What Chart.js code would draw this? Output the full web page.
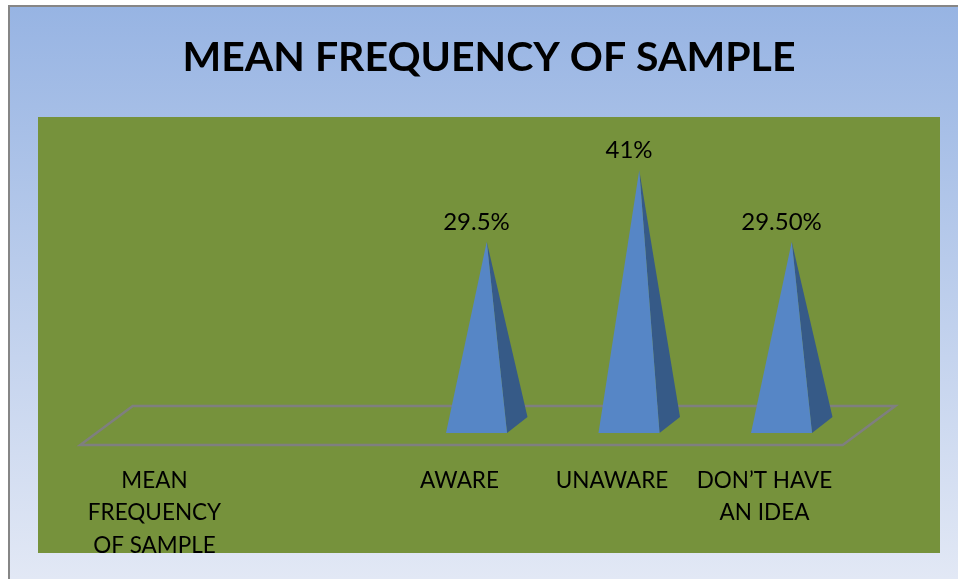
<!DOCTYPE html>
<html>
<head>
<meta charset="utf-8">
<title>Mean frequency of sample</title>
<style>
html, body { margin: 0; padding: 0; background: #fff; }
#wrap { position: absolute; left: 0; top: 0; width: 958px; height: 579px; }
</style>
<script src="https://cdn.jsdelivr.net/npm/chart.js@4"></script>
</head>
<body>
<div id="wrap"><canvas id="myChart" width="958" height="579"></canvas></div>
<script>
const titleText = 'MEAN FREQUENCY OF SAMPLE';
const categories = [['MEAN', 'FREQUENCY', 'OF SAMPLE'], '', 'AWARE', 'UNAWARE', ['DON’T HAVE', 'AN IDEA']];
const values = [null, null, 29.5, 41, 29.5];
const valueLabels = ['', '', '29.5%', '41%', '29.50%'];

// pyramid depth on screen, px
const depthX = 20.5;
const depthY = 16;

class PyramidElement extends Chart.BarElement {
    draw(ctx) {
        const { x, y, base, width } = this.getProps(['x', 'y', 'base', 'width']);
        if (y === base || isNaN(y)) return;
        const left = x - width / 2;
        const right = x + width / 2;
        const apexX = x + depthX / 2;
        const front = base + depthY / 2;

        ctx.save();
        ctx.fillStyle = '#365a87';
        ctx.beginPath();
        ctx.moveTo(apexX, y);
        ctx.lineTo(right, front);
        ctx.lineTo(right + depthX, front - depthY);
        ctx.closePath();
        ctx.fill();

        ctx.fillStyle = this.options.backgroundColor;
        ctx.beginPath();
        ctx.moveTo(apexX, y);
        ctx.lineTo(left, front);
        ctx.lineTo(right, front);
        ctx.closePath();
        ctx.fill();
        ctx.restore();
    }
}
PyramidElement.id = 'pyramid';
PyramidElement.defaults = { ...Chart.BarElement.defaults };

class PyramidController extends Chart.BarController {}
PyramidController.id = 'pyramid';
PyramidController.defaults = { ...Chart.BarController.defaults, dataElementType: 'pyramid' };
PyramidController.overrides = Chart.BarController.overrides;

Chart.register(PyramidElement, PyramidController);

function panelFill(ctx) {
    const g = ctx.createLinearGradient(0, 7, 0, 579);
    g.addColorStop(0, '#97b4e3');
    g.addColorStop(1, '#e2e8f5');
    return g;
}

const backdrop = {
    id: 'backdrop',
    beforeDraw(chart) {
        const { ctx, scales } = chart;
        ctx.save();
        ctx.fillStyle = '#868686';
        ctx.fillRect(8, 5, 950, 574);
        ctx.fillStyle = panelFill(ctx);
        ctx.fillRect(10, 7, 948, 572);
        ctx.fillStyle = '#76923c';
        ctx.fillRect(38, 117, 902, 436);

        // floor of the 3d plot
        const y0 = scales.y.getPixelForValue(0);
        const l = scales.x.left;
        const r = scales.x.right;
        ctx.strokeStyle = '#7f7f7f';
        ctx.lineWidth = 2.5;
        ctx.beginPath();
        ctx.moveTo(l - 15, y0 + 20);
        ctx.lineTo(r - 15, y0 + 20);
        ctx.lineTo(r + 37.5, y0 - 19);
        ctx.lineTo(l + 37.5, y0 - 19);
        ctx.closePath();
        ctx.stroke();

        ctx.fillStyle = '#000';
        ctx.font = 'bold 41px Lato';
        ctx.textAlign = 'center';
        ctx.textBaseline = 'alphabetic';
        ctx.fillText(titleText, 489, 71);
        ctx.restore();
    },
    afterDraw(chart) {
        const { ctx } = chart;
        ctx.save();
        // value labels above the tips
        ctx.fillStyle = '#000';
        ctx.font = '24px Lato';
        ctx.textAlign = 'center';
        ctx.textBaseline = 'alphabetic';
        chart.getDatasetMeta(0).data.forEach((bar, i) => {
            if (values[i] === null) return;
            ctx.fillText(valueLabels[i], bar.x, bar.y - 12);
        });
        // the last tick line is cut by the plot edge in the original
        ctx.fillStyle = panelFill(ctx);
        ctx.fillRect(10, 553, 948, 26);
        ctx.restore();
    }
};

new Chart(document.getElementById('myChart').getContext('2d'), {
    type: 'pyramid',
    data: {
        labels: categories,
        datasets: [{
            label: titleText,
            data: values,
            backgroundColor: '#5686c6',
            categoryPercentage: 0.4,
            barPercentage: 1,
            clip: false
        }]
    },
    options: {
        responsive: false,
        animation: false,
        layout: { padding: { left: 95.25, right: 100.25, top: 145.5, bottom: 0 } },
        plugins: {
            legend: { display: false },
            title: { display: false },
            tooltip: { enabled: false }
        },
        scales: {
            x: {
                grid: { display: false },
                border: { display: false },
                afterFit: scale => { scale.height = 154; },
                ticks: {
                    color: '#000',
                    maxRotation: 0,
                    autoSkip: false,
                    labelOffset: -17,
                    padding: 31,
                    font: { family: 'Lato', size: 22.5, lineHeight: '32.5px' }
                }
            },
            y: {
                display: false,
                min: 0,
                max: 45
            }
        }
    },
    plugins: [backdrop]
});
</script>
</body>
</html>
